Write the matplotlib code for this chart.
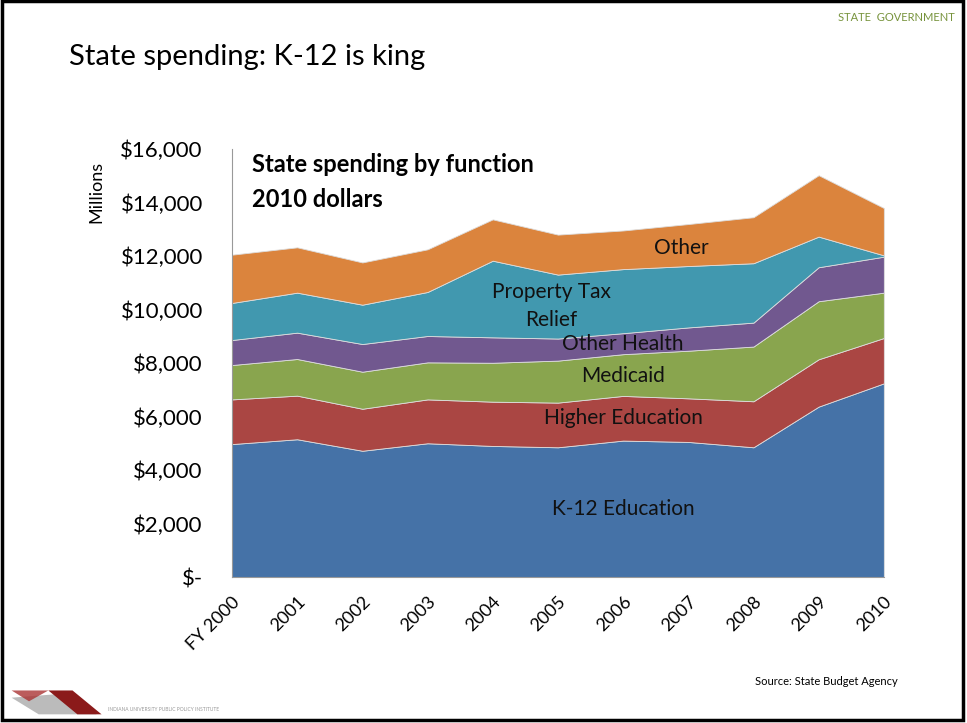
import numpy as np
import matplotlib.pyplot as plt
from matplotlib.patches import Polygon, Rectangle

plt.rcParams['font.family'] = ['Lato', 'DejaVu Sans']

years = ['FY 2000', '2001', '2002', '2003', '2004', '2005',
         '2006', '2007', '2008', '2009', '2010']

# millions of 2010 dollars
k12 = [4970, 5150, 4720, 5000, 4900, 4850, 5100, 5050, 4850, 6370, 7240]
higher_ed = [1670, 1630, 1570, 1640, 1655, 1670, 1670, 1630, 1720, 1770, 1695]
medicaid = [1285, 1370, 1385, 1385, 1455, 1570, 1560, 1780, 2045, 2170, 1695]
other_health = [935, 985, 1035, 985, 950, 825, 785, 870, 895, 1270, 1345]
prop_tax = [1385, 1495, 1470, 1645, 2865, 2390, 2395, 2295, 2220, 1145, 50]
other = [1805, 1695, 1580, 1595, 1545, 1495, 1445, 1570, 1720, 2295, 1770]

colors = ['#4572A7', '#AA4643', '#89A54E', '#71588F', '#4198AF', '#DB843D']

fig = plt.figure(figsize=(9.67, 7.23), dpi=100)
ax = fig.add_axes([0.2399, 0.2019, 0.6741, 0.592])

x = np.arange(len(years))
ax.stackplot(x, k12, higher_ed, medicaid, other_health, prop_tax, other,
             colors=colors, linewidth=0.6, edgecolor='#dddddd')

ax.set_xlim(0, len(years) - 1)
ax.set_ylim(0, 16000)
ax.set_yticks(np.arange(0, 16001, 2000))
ax.set_yticklabels(['$-'] + ['${:,}'.format(v) for v in range(2000, 16001, 2000)],
                   fontsize=16)
ax.set_xticks(x)
ax.set_xticklabels(years, rotation=45, ha='right', rotation_mode='anchor', fontsize=13)
ax.tick_params(axis='y', length=0, pad=21)
ax.tick_params(axis='x', length=0, pad=12)
for s in ['top', 'right']:
    ax.spines[s].set_visible(False)
ax.spines['left'].set_color('#999999')
ax.spines['bottom'].set_color('#999999')
ax.set_ylabel('Millions', fontsize=13)
ax.yaxis.set_label_coords(-0.195, 0.9)

# labels inside areas
lab = dict(fontsize=15, ha='center', va='center', color='#111111')
ax.text(6.0, 2540, 'K-12 Education', **lab)
ax.text(6.0, 5944, 'Higher Education', **lab)
ax.text(6.0, 7514, 'Medicaid', **lab)
ax.text(6.0, 8710, 'Other Health', **lab)
ax.text(4.9, 10130, 'Property Tax\nRelief', linespacing=1.5, **lab)
ax.text(6.89, 12300, 'Other', **lab)

ax.text(0.03, 0.99, 'State spending by function\n2010 dollars', transform=ax.transAxes,
        fontsize=17, fontweight='bold', va='top', ha='left', linespacing=1.6)

# slide decorations
fig.text(0.0714, 0.921, 'State spending: K-12 is king', fontsize=21, va='center')
fig.text(0.987, 0.976, 'STATE  GOVERNMENT', fontsize=8, color='#77933C',
         ha='right', va='center')
fig.text(0.928, 0.058, 'Source: State Budget Agency', fontsize=8, ha='right', va='center')

# logo at bottom left
fig.patches.append(Polygon([[0.012, 0.035], [0.06, 0.04], [0.1, 0.012], [0.04, 0.012]],
                           closed=True, transform=fig.transFigure,
                           facecolor='#bbbbbb', edgecolor='none'))
fig.patches.append(Polygon([[0.05, 0.045], [0.075, 0.045], [0.105, 0.012], [0.08, 0.012]],
                           closed=True, transform=fig.transFigure,
                           facecolor='#8b1a1a', edgecolor='none'))
fig.patches.append(Polygon([[0.012, 0.045], [0.05, 0.045], [0.03, 0.03]],
                           closed=True, transform=fig.transFigure,
                           facecolor='#a33', edgecolor='none', alpha=0.8))
fig.text(0.112, 0.018, 'INDIANA UNIVERSITY PUBLIC POLICY INSTITUTE', fontsize=3.5,
         color='#999999', va='center')

fig.patches.append(Rectangle((0.002, 0.004), 0.994, 0.994, transform=fig.transFigure,
                             fill=False, edgecolor='black', linewidth=2.5))

fig.savefig('out.png', dpi=100)
